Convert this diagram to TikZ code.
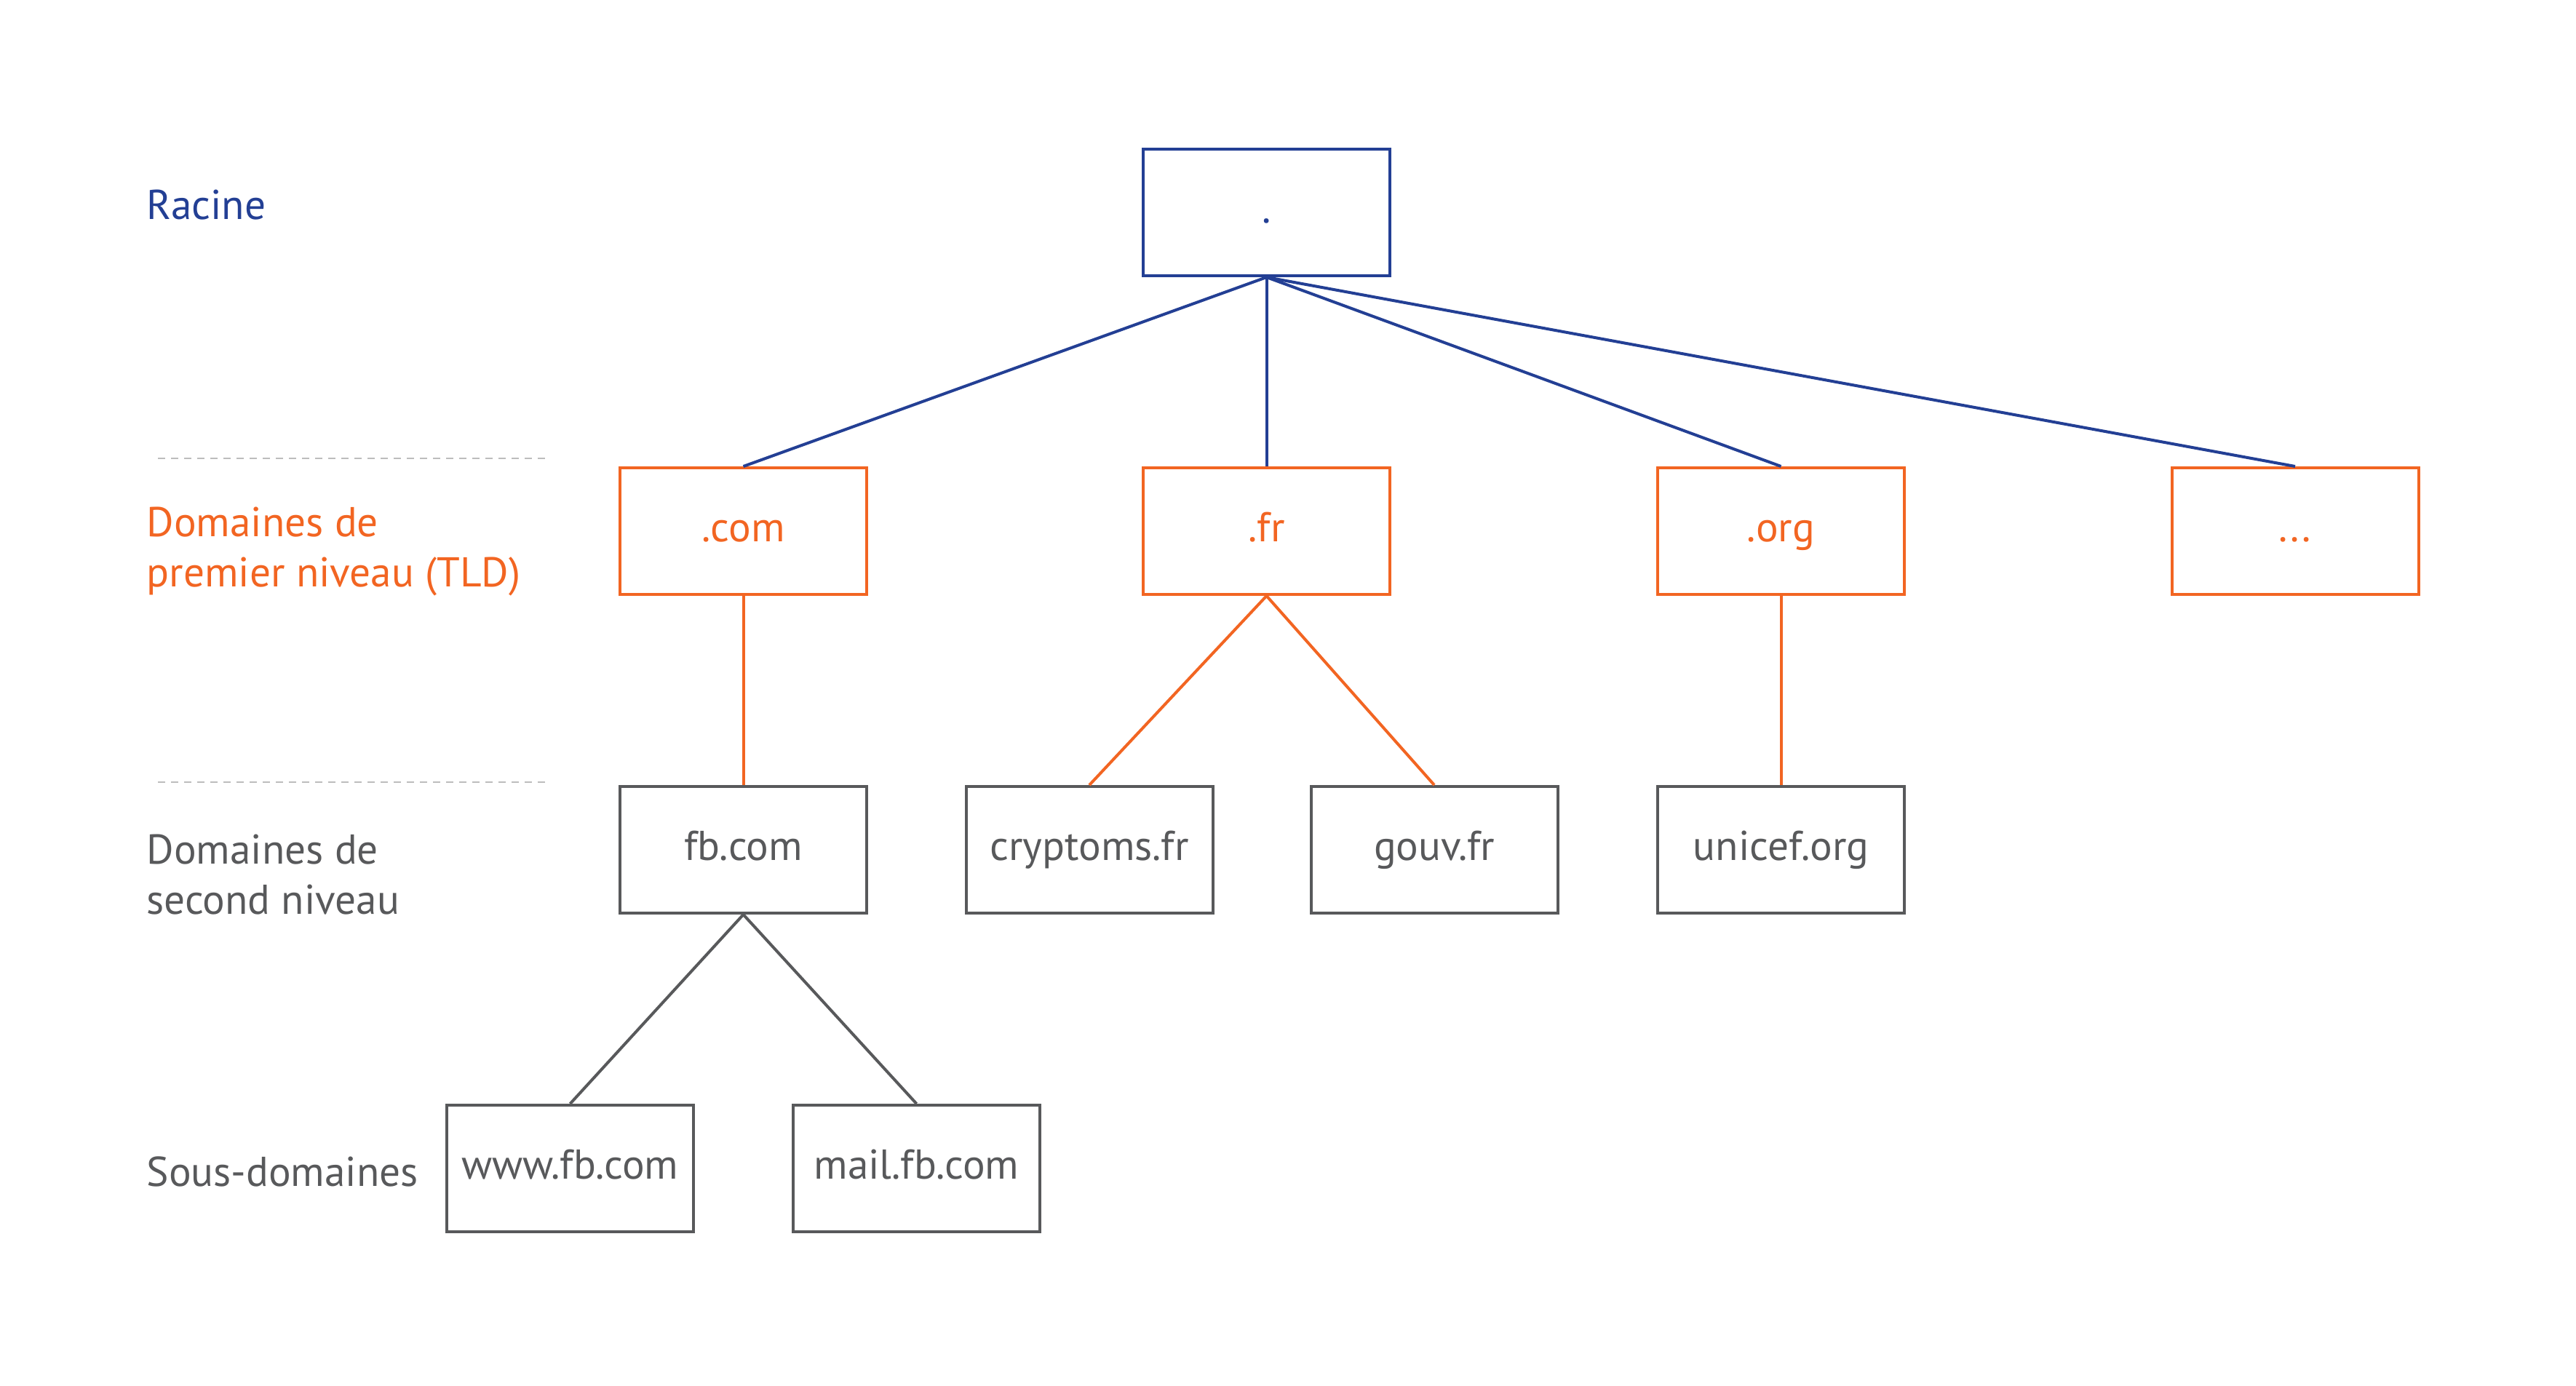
\documentclass[tikz,border=0pt]{standalone}
\usepackage{fontspec}
\setmainfont{PT Sans}
\usepackage{xcolor}
\usetikzlibrary{positioning}
\definecolor{racblue}{HTML}{233F94}
\definecolor{tldorange}{HTML}{F26522}
\definecolor{sldgray}{HTML}{58595B}
\definecolor{sepgray}{HTML}{BDBDBD}

\begin{document}
\begin{tikzpicture}[
  box/.style={draw, line width=0.04cm, minimum width=3.39cm,
    minimum height=1.74cm, inner sep=0pt, align=center,
    text height=1.0em, text depth=0.16em,
    font=\fontsize{16.3}{20}\selectfont},
  rootbox/.style={box, draw=racblue, text=racblue},
  tldbox/.style={box, draw=tldorange, text=tldorange},
  sldbox/.style={box, draw=sldgray, text=sldgray},
  link/.style={line width=0.04cm},
  lvl/.style={anchor=west, align=left, inner sep=0pt,
    font=\fontsize{16.3}{19.8}\selectfont},
  sep/.style={draw=sepgray, line width=0.02cm, dash pattern=on 0.1cm off 0.08cm}
]
\useasboundingbox (0,0) rectangle (35.4,-19.04);

% Level labels
\node[lvl, text=racblue] (lracine) at (2.01,-2.82) {Racine};
\node[lvl, text=tldorange] (ltld) at (2.01,-7.58)
  {Domaines de\\premier niveau (TLD)};
\node[lvl, text=sldgray] (lsld) at (2.01,-12.02)
  {Domaines de\\second niveau};
\node[lvl, text=sldgray] (lsous) at (2.01,-16.10) {Sous-domaines};

% Separators
\coordinate (s1a) at (2.17,-6.30);
\coordinate (s1b) at (7.52,-6.30);
\coordinate (s2a) at (2.17,-10.75);
\coordinate (s2b) at (7.52,-10.75);
\draw[sep] (s1a) -- (s1b);
\draw[sep] (s2a) -- (s2b);

% Root
\node[rootbox] (root) at (17.405,-2.92) {.};

% Top level domains
\node[tldbox] (com) at (10.215,-7.30) {.com};
\node[tldbox] (fr) at (17.405,-7.30) {.fr};
\node[tldbox] (org) at (24.475,-7.30) {.org};
\node[tldbox] (etc) at (31.54,-7.30) {...};

% Second level domains
\node[sldbox] (fb) at (10.215,-11.68) {fb.com};
\node[sldbox] (cryptoms) at (14.97,-11.68) {cryptoms.fr};
\node[sldbox] (gouv) at (19.71,-11.68) {gouv.fr};
\node[sldbox] (unicef) at (24.475,-11.68) {unicef.org};

% Sub domains
\node[sldbox] (www) at (7.835,-16.06) {www.fb.com};
\node[sldbox] (mail) at (12.595,-16.06) {mail.fb.com};

% Links
\foreach \t in {com,fr,org,etc}
  \draw[link, racblue] (root.south) -- (\t.north);
\draw[link, tldorange] (com.south) -- (fb.north);
\draw[link, tldorange] (fr.south) -- (cryptoms.north);
\draw[link, tldorange] (fr.south) -- (gouv.north);
\draw[link, tldorange] (org.south) -- (unicef.north);
\draw[link, sldgray] (fb.south) -- (www.north);
\draw[link, sldgray] (fb.south) -- (mail.north);

\end{tikzpicture}
\end{document}
